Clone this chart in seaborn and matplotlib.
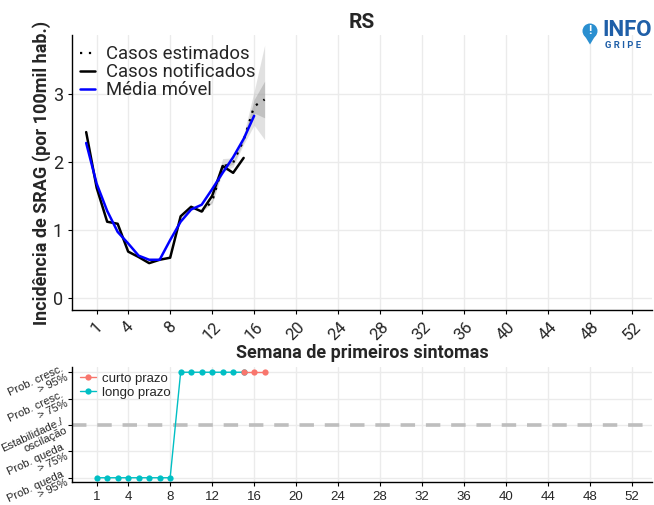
import numpy as np
import pandas as pd
import seaborn as sns
import matplotlib.pyplot as plt
from matplotlib.patches import Circle, Polygon

# dados
sem_notif = list(range(0, 16))
casos_notif = [2.44, 1.62, 1.12, 1.09, 0.68, 0.60, 0.51, 0.56, 0.59, 1.20, 1.34, 1.27, 1.50, 1.94, 1.84, 2.06]

sem_media = list(range(0, 17))
media_movel = [2.28, 1.68, 1.28, 0.97, 0.80, 0.62, 0.56, 0.56, 0.85, 1.12, 1.30, 1.37, 1.60, 1.84, 2.07, 2.34, 2.68]

sem_est = [11, 12, 13, 14, 15, 16, 17]
casos_est = [1.27, 1.42, 1.93, 1.99, 2.32, 2.82, 2.92]
ic_lo_90 = [1.27, 1.39, 1.85, 1.93, 2.26, 2.54, 2.33]
ic_hi_90 = [1.27, 1.46, 2.05, 2.06, 2.40, 3.04, 3.72]
ic_lo_50 = [1.27, 1.41, 1.90, 1.97, 2.30, 2.72, 2.65]
ic_hi_50 = [1.27, 1.43, 1.97, 2.01, 2.35, 2.92, 3.19]

sem_longo = list(range(1, 16))
tend_longo = [-2, -2, -2, -2, -2, -2, -2, -2, 2, 2, 2, 2, 2, 2, 2]
sem_curto = [15, 16, 17]
tend_curto = [2, 2, 2]

xticks = [1, 4, 8, 12, 16, 20, 24, 28, 32, 36, 40, 44, 48, 52]
tend_labels = ["Prob. queda\n> 95%", "Prob. queda\n> 75%", "Estabilidade./\noscilação",
               "Prob. cresc.\n> 75%", "Prob. cresc.\n> 95%"]

sns.set_style("whitegrid")
plt.rcParams['font.family'] = ['Roboto', 'DejaVu Sans']

fig = plt.figure(figsize=(6.54, 5.05), dpi=100)
W, H = 654, 505
ax = fig.add_axes([72 / W, 1 - 310 / H, (652 - 72) / W, (310 - 35) / H])
ax2 = fig.add_axes([72 / W, 1 - 481.7 / H, (652 - 72) / W, (481.7 - 366.7) / H])

grid_c = "#EBEBEB"
for a in (ax, ax2):
    a.set_facecolor("white")
    a.grid(True, color=grid_c, linewidth=1.0)
    for s in ["top", "right"]:
        a.spines[s].set_visible(False)
    for s in ["left", "bottom"]:
        a.spines[s].set_color("black")
        a.spines[s].set_linewidth(1.0)
    a.tick_params(axis="both", which="both", length=3, color="black", direction="out",
                  bottom=True, left=True)
    a.set_xlim(-1.35, 53.9)
    a.set_xticks(xticks)

# painel superior
ax.fill_between(sem_est, ic_lo_90, ic_hi_90, color="#BEBEBE", alpha=0.45, linewidth=0)
ax.fill_between(sem_est, ic_lo_50, ic_hi_50, color="#9A9A9A", alpha=0.45, linewidth=0)
sns.lineplot(x=sem_est, y=casos_est, ax=ax, color="black", linewidth=1.6,
             linestyle=(0, (1, 3)), label="Casos estimados")
sns.lineplot(x=sem_notif, y=casos_notif, ax=ax, color="black", linewidth=1.8,
             label="Casos notificados")
sns.lineplot(x=sem_media, y=media_movel, ax=ax, color="#0000FF", linewidth=1.8,
             label="Média móvel")

ax.set_ylim(-0.18, 3.87)
ax.set_yticks([0, 1, 2, 3])
ax.set_yticklabels(["0", "1", "2", "3"], fontsize=13)
ax.set_xticklabels([str(t) for t in xticks], rotation=45, fontsize=12, ha="center",
                   va="top")
ax.set_ylabel("Incidência de SRAG (por 100mil hab.)", fontsize=13, fontweight="bold",
              labelpad=1)
ax.set_xlabel("Semana de primeiros sintomas", fontsize=13, fontweight="bold", labelpad=1)
ax.set_title("RS", fontsize=15, fontweight="bold", pad=5)
leg = ax.legend(loc="upper left", bbox_to_anchor=(-0.005, 1.003), frameon=False,
                fontsize=13.3, handlelength=0.8, handletextpad=0.6, labelspacing=0.0,
                borderaxespad=0.2)

# painel inferior
ax2.axhline(0, color="#BEBEBE", linewidth=2.6, linestyle=(0, (4, 3)), zorder=1)
sns.lineplot(x=sem_longo, y=tend_longo, ax=ax2, color="#00BFC4", linewidth=1.0,
             marker="o", markersize=4.5, markeredgewidth=0, label="longo prazo", zorder=3)
sns.lineplot(x=sem_curto, y=tend_curto, ax=ax2, color="#F8766D", linewidth=1.0,
             marker="o", markersize=4.5, markeredgewidth=0, label="curto prazo", zorder=4)
ax2.set_ylim(-2.15, 2.21)
ax2.set_yticks([-2, -1, 0, 1, 2])
ax2.set_yticklabels(tend_labels, fontsize=8, rotation=25, ha="right", va="center",
                    rotation_mode="anchor", linespacing=0.95, family="Liberation Sans")
ax2.tick_params(axis="y", pad=2)
ax2.set_xticklabels([str(t) for t in xticks], fontsize=9.5, family="Liberation Sans")
ax2.set_xlabel("")
ax2.set_ylabel("")
h, l = ax2.get_legend_handles_labels()
ax2.legend(h[::-1], l[::-1], loc="upper left", bbox_to_anchor=(0.0, 1.02), frameon=False,
           prop={"family": "Liberation Sans", "size": 9.5}, handlelength=1.2,
           handletextpad=0.5, labelspacing=0.15, borderaxespad=0.2)

# logo
lax = fig.add_axes([580 / W, 1 - 48 / H, 20 / W, 30 / H])
lax.set_xlim(0, 20)
lax.set_ylim(0, 30)
lax.axis("off")
lax.add_patch(Circle((10, 17), 7.5, color="#2A8FD0", linewidth=0))
lax.add_patch(Polygon([[3.3, 14.5], [16.7, 14.5], [10, 3.5]], closed=True,
                      color="#2A8FD0", linewidth=0))
lax.text(10, 17.5, "!", color="white", fontsize=9, ha="center", va="center",
         fontweight="bold")
fig.text(602 / W, 1 - 36 / H, "INFO", color="#1F5FA8", fontsize=16, fontweight="bold",
         ha="left", va="baseline")
fig.text(605 / W, 1 - 48.5 / H, "G R I P E", color="#1F5FA8", fontsize=6.8,
         fontweight="bold", ha="left", va="baseline")

fig.savefig("out.png", dpi=100)
